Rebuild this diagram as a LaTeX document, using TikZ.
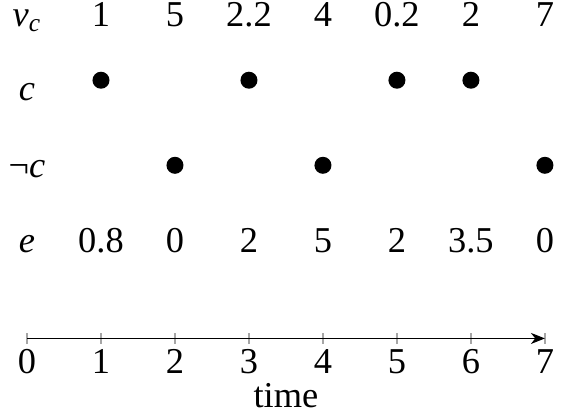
\documentclass[tikz,border=0pt]{standalone}
\usepackage{fontspec}
\setmainfont{Liberation Serif}
\usetikzlibrary{positioning,arrows.meta}

\begin{document}
\begin{tikzpicture}[>={Stealth[length=1.9mm,width=1.5mm,inset=0.6mm]},
  every node/.style={font=\rmfamily\fontsize{14}{16}\selectfont},
  val/.style={anchor=base,inner sep=0pt},
  event/.style={circle,fill=black,inner sep=0pt,minimum size=2.3mm},
  tickmark/.style={draw=gray!70,line width=0.5pt}]
\useasboundingbox (-0.365,-1.047) rectangle (7.285,4.574);
% row labels
\node[val] (lv) at (0,4.22) {\textit{v}\textsubscript{\textit{c}}};
\node[val] (lc) at (0,3.21) {\textit{c}};
\node[val] (lnc) at (0,2.17) {¬\textit{c}};
\node[val] (le) at (0,1.155) {\textit{e}};
% values
\foreach \x/\v in {1/1,2/5,3/2.2,4/4,5/0.2,6/2,7/7}
  \node[val] (v\x) at (\x,4.22) {\v};
\foreach \x/\v in {1/0.8,2/0,3/2,4/5,5/2,6/3.5,7/0}
  \node[val] (e\x) at (\x,1.155) {\v};
% events
\foreach \x in {1,3,5,6}
  \node[event] (c\x) at (\x,3.49) {};
\foreach \x in {2,4,7}
  \node[event] (n\x) at (\x,2.34) {};
% time axis
\foreach \x in {0,...,7} {
  \coordinate (t\x) at (\x,0);
  \draw[tickmark] (\x,-0.075) -- (\x,0.075);
  \node[val] (l\x) at (\x,-0.48) {\x};
}
\draw[->] (t0) -- (t7);
\node[val] (time) at (3.5,-0.94) {time};
\end{tikzpicture}
\end{document}
